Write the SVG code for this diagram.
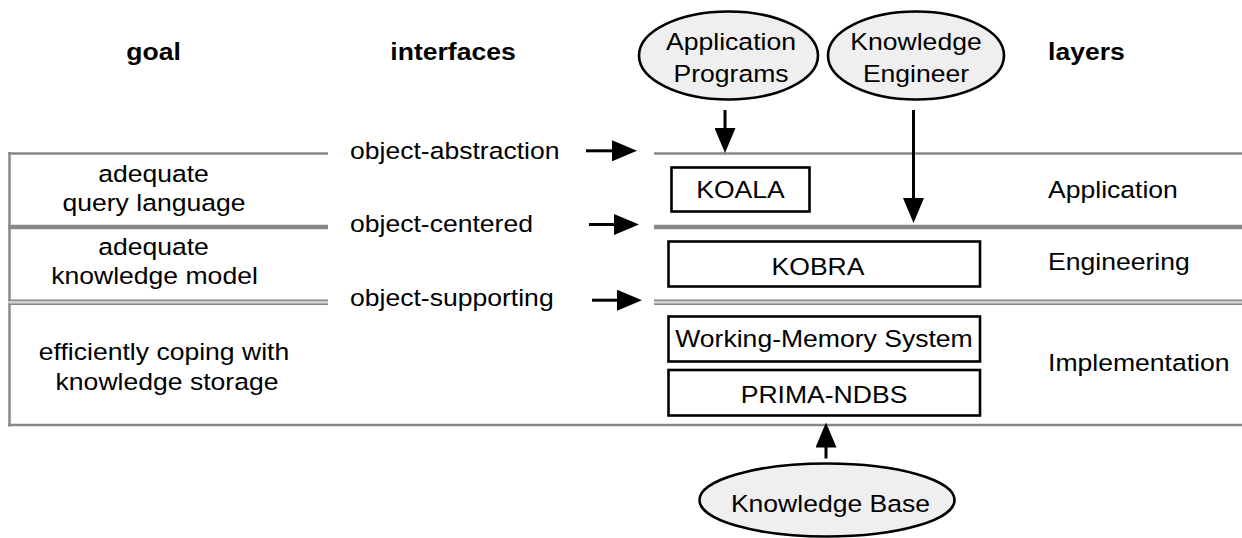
<svg xmlns="http://www.w3.org/2000/svg" width="1242" height="538" viewBox="0 0 1242 538">
<style>
.t{font-family:"Liberation Sans",Arial,Helvetica,sans-serif;font-size:23.3px;fill:#000}
.b{font-weight:bold}
.box{fill:#fff;stroke:#000;stroke-width:2.6}
.ell{fill:#efefef;stroke:#000;stroke-width:2.6}
.ln{stroke:#888;fill:none}
.arr{stroke:#000;stroke-width:3;fill:none;marker-end:url(#ah)}
</style>
<defs>
<marker id="ah" markerUnits="userSpaceOnUse" viewBox="0 0 25 21" refX="3" refY="10.5" markerWidth="25" markerHeight="21" orient="auto">
<path d="M0,0 L25,10.5 L0,21 z" fill="#000"/>
</marker>
</defs>
<rect width="1242" height="538" fill="#fff"/>

<!-- headers -->
<text class="t b" text-anchor="middle" transform="translate(153.5,60) scale(1.14,1)">goal</text>
<text class="t b" text-anchor="middle" transform="translate(453,60) scale(1.14,1)">interfaces</text>
<text class="t b" text-anchor="start" transform="translate(1048,60) scale(1.14,1)">layers</text>

<!-- layer frame -->
<g id="frame">
<line class="ln" x1="9.5" y1="152" x2="9.5" y2="426.5" stroke-width="2.5"/>
<line class="ln" x1="8.3" y1="153.5" x2="328" y2="153.5" stroke-width="2.5"/>
<line class="ln" x1="654" y1="153.5" x2="1242" y2="153.5" stroke-width="2.5"/>
<line class="ln" x1="8.3" y1="227" x2="328" y2="227" stroke-width="4.5"/>
<line class="ln" x1="654" y1="227" x2="1242" y2="227" stroke-width="4.5"/>
<line x1="8.3" y1="302.2" x2="328" y2="302.2" stroke="#d0d0d0" stroke-width="4.5"/>
<line x1="654" y1="302.2" x2="1242" y2="302.2" stroke="#d0d0d0" stroke-width="4.5"/>
<line class="ln" x1="8.3" y1="300.3" x2="328" y2="300.3" stroke-width="1.6"/>
<line class="ln" x1="654" y1="300.3" x2="1242" y2="300.3" stroke-width="1.6"/>
<line class="ln" x1="8.3" y1="304.2" x2="328" y2="304.2" stroke-width="1.6"/>
<line class="ln" x1="654" y1="304.2" x2="1242" y2="304.2" stroke-width="1.6"/>
<line class="ln" x1="8.3" y1="425" x2="1242" y2="425" stroke-width="2.5"/>
</g>

<!-- goal column -->
<g id="goals">
<text class="t" text-anchor="middle" transform="translate(153.5,182) scale(1.14,1)">adequate</text>
<text class="t" text-anchor="middle" transform="translate(154,211) scale(1.14,1)">query language</text>
<text class="t" text-anchor="middle" transform="translate(153.5,254.5) scale(1.14,1)">adequate</text>
<text class="t" text-anchor="middle" transform="translate(154.5,283.5) scale(1.14,1)">knowledge model</text>
<text class="t" text-anchor="middle" transform="translate(164,359.5) scale(1.14,1)">efficiently coping with</text>
<text class="t" text-anchor="middle" transform="translate(167,389.5) scale(1.14,1)">knowledge storage</text>
</g>

<!-- interfaces -->
<g id="interfaces">
<text class="t" transform="translate(350,158.5) scale(1.14,1)">object-abstraction</text>
<text class="t" transform="translate(350,232) scale(1.14,1)">object-centered</text>
<text class="t" transform="translate(350,306) scale(1.14,1)">object-supporting</text>
</g>

<!-- layers -->
<g id="layers">
<text class="t" transform="translate(1048,198) scale(1.14,1)">Application</text>
<text class="t" transform="translate(1048,269.5) scale(1.14,1)">Engineering</text>
<text class="t" transform="translate(1048,371) scale(1.14,1)">Implementation</text>
</g>

<g id="app-programs">
<ellipse class="ell" cx="728.5" cy="55.5" rx="89.5" ry="44"/>
<text class="t" text-anchor="middle" transform="translate(731,50) scale(1.14,1)">Application</text>
<text class="t" text-anchor="middle" transform="translate(731,81.5) scale(1.14,1)">Programs</text>
</g>

<g id="knowledge-engineer">
<ellipse class="ell" cx="916" cy="55.5" rx="88" ry="44"/>
<text class="t" text-anchor="middle" transform="translate(916,50) scale(1.14,1)">Knowledge</text>
<text class="t" text-anchor="middle" transform="translate(916,81.5) scale(1.14,1)">Engineer</text>
</g>

<g id="koala">
<rect class="box" x="671.5" y="167.5" width="138" height="44"/>
<text class="t" text-anchor="middle" transform="translate(740.5,198.3) scale(1.14,1)">KOALA</text>
</g>

<g id="kobra">
<rect class="box" x="668.5" y="241.5" width="311.5" height="45"/>
<text class="t" text-anchor="middle" transform="translate(818,275) scale(1.14,1)">KOBRA</text>
</g>

<g id="working-memory">
<rect class="box" x="668.5" y="316.5" width="311.5" height="45"/>
<text class="t" text-anchor="middle" transform="translate(824,346.7) scale(1.14,1)">Working-Memory System</text>
</g>

<g id="prima-ndbs">
<rect class="box" x="668.5" y="370" width="311.5" height="45.5"/>
<text class="t" text-anchor="middle" transform="translate(824,402.7) scale(1.14,1)">PRIMA-NDBS</text>
</g>

<g id="knowledge-base">
<ellipse class="ell" cx="827" cy="500" rx="127.5" ry="36.5"/>
<text class="t" text-anchor="middle" transform="translate(830.5,511.7) scale(1.14,1)">Knowledge Base</text>
</g>

<g id="connectors">
<line class="arr" x1="586" y1="150.8" x2="615" y2="150.8"/>
<line class="arr" x1="589" y1="224.5" x2="617" y2="224.5"/>
<line class="arr" x1="592" y1="300.2" x2="620" y2="300.2"/>
<line class="arr" x1="725" y1="110" x2="725" y2="131"/>
<line class="arr" x1="913.5" y1="110" x2="913.5" y2="201"/>
<line class="arr" x1="826" y1="458.5" x2="826" y2="444.5"/>
</g>
</svg>
